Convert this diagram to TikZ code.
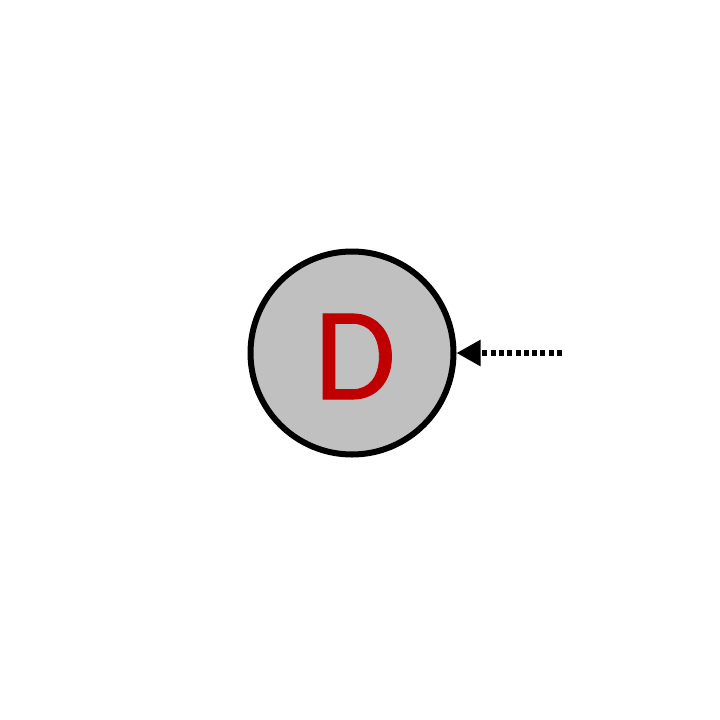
\documentclass[tikz,border=0pt]{standalone}
\usepackage{fontspec}
\setmainfont{Carlito}
\newfontfamily\letterfont[FakeBold=0.6]{Carlito}
\usetikzlibrary{arrows.meta}
\definecolor{nodegray}{HTML}{C0C0C0}
\definecolor{labelred}{HTML}{C00000}
\tikzset{
  ballnode/.style={circle, draw=black, fill=nodegray, line width=6pt, minimum size=203pt, inner sep=0pt},
  bigletter/.style={text=labelred, font=\letterfont\fontsize{133}{133}\selectfont, inner sep=0pt},
  dotconn/.style={line width=5.5pt, dash pattern=on 5pt off 3.3pt, -{Triangle[length=24pt,width=25pt]}}
}
\begin{document}
\begin{tikzpicture}[x=1pt,y=-1pt]
\useasboundingbox (0,0) rectangle (720,720);
\node[ballnode] (d) at (352,353) {};
\node[bigletter] (dl) at (355,356.5) {D};
\coordinate (s) at (562,353);
\draw[dotconn] (s) -- (d);
\end{tikzpicture}
\end{document}
